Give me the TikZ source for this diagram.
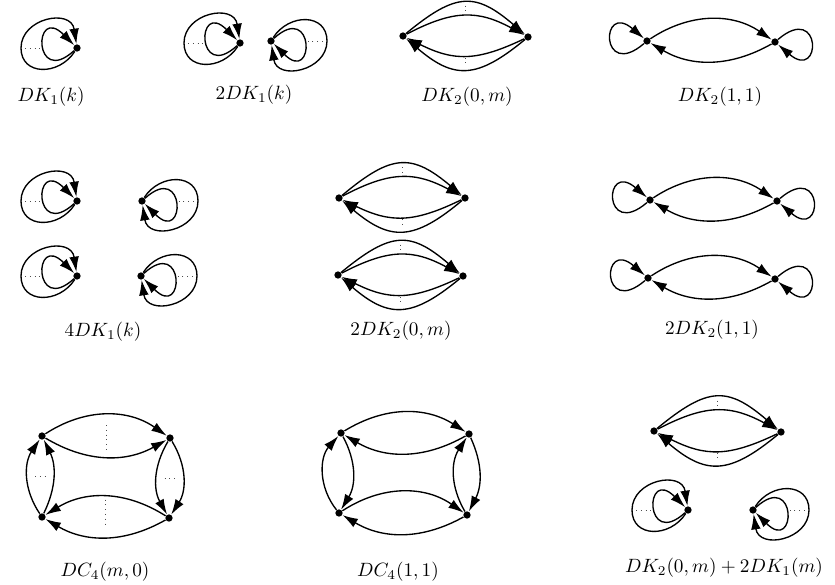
\documentclass[tikz,border=0pt]{standalone}
\usepackage{amsmath}
\usepackage{tikz}
\usetikzlibrary{arrows.meta,calc}

% two nested loops at one vertex, #2 = 1 opens left, -1 opens right
\newcommand{\kloops}[2]{%
 \draw[arc] (#1) .. controls +({-44*#2},{40*#2}) and +({-44*#2},{-44*#2}) .. (#1);
 \draw[arc] (#1) .. controls +({-18*#2},{28*#2}) and +(0,{28*#2}) .. ++({-56*#2},0)
   .. controls +(0,{-30*#2}) and +({-6*#2},{-40*#2}) .. (#1);
 \draw[dots] (#1) ++({-52*#2},0) -- ++({16*#2},0);
}
% DK_2(0,m) between two vertices
\newcommand{\dkzero}[2]{%
 \draw[arc] (#1) to[bend left=40,looseness=1.4] (#2);
 \draw[arc] (#1) to[bend left=28,looseness=1.15] (#2);
 \draw[arc] (#2) to[bend left=26,looseness=1.15] (#1);
 \draw[arc] (#2) to[bend left=40,looseness=1.35] (#1);
 \draw[dots] ($(#1)!.5!(#2)$) ++(0,-31) -- ++(0,9);
 \draw[dots] ($(#1)!.5!(#2)$) ++(0,21) -- ++(0,9);
}
% DK_2(1,1) between two vertices
\newcommand{\dkone}[2]{%
 \draw[arc] (#1) to[bend left=34] (#2);
 \draw[arc] (#2) to[bend left=30] (#1);
 \draw[arc] (#1) .. controls +(-47,40) and +(-47,-40) .. (#1);
 \draw[arc] (#2) .. controls +(47,-40) and +(47,40) .. (#2);
}

\begin{document}
\begin{tikzpicture}[x=0.52pt,y=-0.52pt,>={Latex[length=8pt,width=5pt]},
 vtx/.style={circle,fill,inner sep=0pt,minimum size=3.8pt},
 arc/.style={->,line width=0.7pt},
 dots/.style={dotted,line width=0.5pt,black!70}]
 \useasboundingbox (0,0) rectangle (835,584);

 % row 1
 \node[vtx] (a)  at (77,48)  {};
 \node[vtx] (b1) at (240,43) {};
 \node[vtx] (b2) at (271,41) {};
 \node[vtx] (c1) at (403,36) {};
 \node[vtx] (c2) at (528,37) {};
 \node[vtx] (d1) at (647,41) {};
 \node[vtx] (d2) at (775,42) {};
 \node (la) at (51,97)  {$DK_1(k)$};
 \node (lb) at (254,95) {$2DK_1(k)$};
 \node (lc) at (467,97) {$DK_2(0,m)$};
 \node (ld) at (720,97) {$DK_2(1,1)$};

 % row 2
 \node[vtx] (e1) at (77,201)  {};
 \node[vtx] (e2) at (142,201) {};
 \node[vtx] (e3) at (77,276)  {};
 \node[vtx] (e4) at (141,276) {};
 \node[vtx] (f1) at (339,198) {};
 \node[vtx] (f2) at (465,198) {};
 \node[vtx] (f3) at (338,275) {};
 \node[vtx] (f4) at (463,276) {};
 \node[vtx] (g1) at (650,200) {};
 \node[vtx] (g2) at (777,201) {};
 \node[vtx] (g3) at (648,278) {};
 \node[vtx] (g4) at (775,279) {};
 \node (le) at (103,332) {$4DK_1(k)$};
 \node (lf) at (401,331) {$2DK_2(0,m)$};
 \node (lg) at (712,330) {$2DK_2(1,1)$};

 % row 3
 \node[vtx] (h1) at (42,436)  {};
 \node[vtx] (h2) at (170,438) {};
 \node[vtx] (h3) at (42,517)  {};
 \node[vtx] (h4) at (169,518) {};
 \node[vtx] (i1) at (341,433) {};
 \node[vtx] (i2) at (469,434) {};
 \node[vtx] (i3) at (339,513) {};
 \node[vtx] (i4) at (467,515) {};
 \node[vtx] (j1) at (654,431) {};
 \node[vtx] (j2) at (781,432) {};
 \node[vtx] (j3) at (688,510) {};
 \node[vtx] (j4) at (753,510) {};
 \node (lh) at (105,572) {$DC_4(m,0)$};
 \node (li) at (398,572) {$DC_4(1,1)$};
 \node (lj) at (724,568) {$DK_2(0,m)+2DK_1(m)$};

 \foreach \v/\s in {a/1,b1/1,b2/-1,e1/1,e2/-1,e3/1,e4/-1,j3/1,j4/-1}
  {\kloops{\v}{\s}}
 \foreach \p/\q in {c1/c2,f1/f2,f3/f4,j1/j2}
  {\dkzero{\p}{\q}}
 \foreach \p/\q in {d1/d2,g1/g2,g3/g4}
  {\dkone{\p}{\q}}

 % DC_4(m,0)
 \draw[arc] (h1) to[bend left=34]  (h2);
 \draw[arc] (h1) to[bend right=30] (h2);
 \draw[arc] (h2) to[bend left=32]  (h4);
 \draw[arc] (h2) to[bend right=30] (h4);
 \draw[arc] (h4) to[bend left=30]  (h3);
 \draw[arc] (h4) to[bend right=32] (h3);
 \draw[arc] (h3) to[bend left=34]  (h1);
 \draw[arc] (h3) to[bend right=26] (h1);
 \draw[dots] ($(h1)!.5!(h2)$) ++(0,-12) -- ++(0,25);
 \draw[dots] ($(h3)!.5!(h4)$) ++(0,-18) -- ++(0,26);
 \draw[dots] ($(h2)!.5!(h4)$) ++(-5,0) -- ++(10,0);
 \draw[dots] ($(h1)!.5!(h3)$) ++(-7,0) -- ++(10,0);

 % DC_4(1,1)
 \draw[arc] (i1) to[bend left=32] (i2);
 \draw[arc] (i2) to[bend left=30] (i1);
 \draw[arc] (i2) to[bend left=26] (i4);
 \draw[arc] (i4) to[bend left=32] (i2);
 \draw[arc] (i3) to[bend left=34] (i4);
 \draw[arc] (i4) to[bend left=30] (i3);
 \draw[arc] (i3) to[bend left=40] (i1);
 \draw[arc] (i1) to[bend left=30] (i3);
\end{tikzpicture}
\end{document}
